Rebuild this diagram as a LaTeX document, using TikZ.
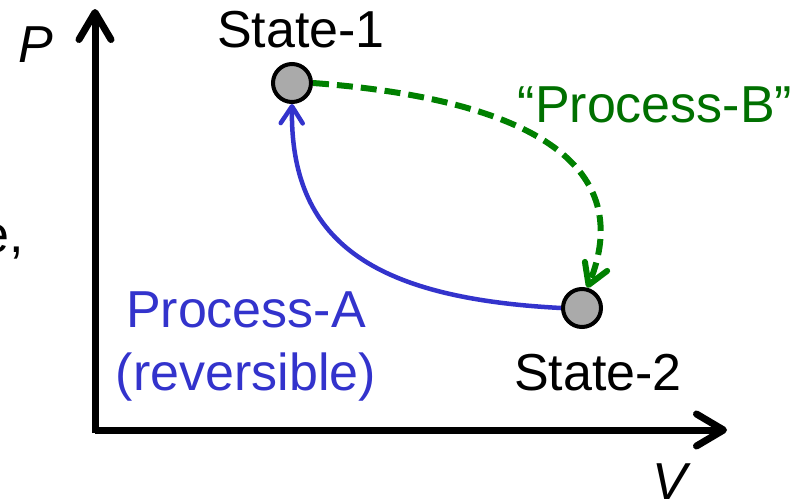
\documentclass[tikz,border=0pt]{standalone}
\usepackage{fontspec}
\setmainfont{Liberation Sans}
\usetikzlibrary{arrows.meta}
\definecolor{procblue}{RGB}{51,51,204}
\definecolor{procgreen}{RGB}{0,128,0}
\definecolor{procgreentext}{RGB}{0,112,0}
\definecolor{stategray}{RGB}{170,170,170}
\tikzset{
  lbl/.style={font=\fontsize{52}{62}\selectfont, inner sep=0pt, anchor=base},
  statept/.style={circle, draw=black, line width=4pt, fill=stategray,
    minimum size=38pt, inner sep=0pt},
  axisline/.style={line width=7pt,
    -{Straight Barb[round, length=27pt, width=32pt]}},
  revpath/.style={draw=procblue, line width=4.5pt,
    -{Straight Barb[round, length=17pt, width=22pt]}},
  irrevpath/.style={draw=procgreen, line width=6pt, dash pattern=on 16pt off 8pt,
    -{Straight Barb[round, length=20pt, width=24pt]}},
}
\begin{document}
\begin{tikzpicture}[x=1pt, y=-1pt]
\useasboundingbox (0,0) rectangle (796,501);

% axes
\coordinate (origin) at (95,430);
\coordinate (ptop) at (95,9);
\coordinate (vend) at (727,430);
\draw[axisline] ([yshift=-3pt]origin) -- (ptop);
\draw[axisline] (origin) -- (vend);
\node[lbl] (plabel) at (36,62) {\itshape P};
\node[lbl] (vlabel) at (670,499) {\itshape V};
\node[lbl, anchor=base east] (cut) at (24,252) {e,};

% states
\node[statept] (s1) at (292,83) {};
\node[statept] (s2) at (582,308) {};
\node[lbl] (s1lbl) at (301,47) {State-1};
\node[lbl] (s2lbl) at (598,390) {State-2};

% processes
\draw[revpath] (s2.west) .. controls (370,298) and (290,240) .. (s1.south);
\draw[irrevpath] (s1.east) .. controls (540,100) and (635,170) .. (s2.75);

\node[lbl, text=procgreentext] (pb) at (655,122) {“Process-B”};
\node[lbl, text=procblue] (pa1) at (246,327) {Process-A};
\node[lbl, text=procblue] (pa2) at (246,390) {(reversible)};
\end{tikzpicture}
\end{document}
